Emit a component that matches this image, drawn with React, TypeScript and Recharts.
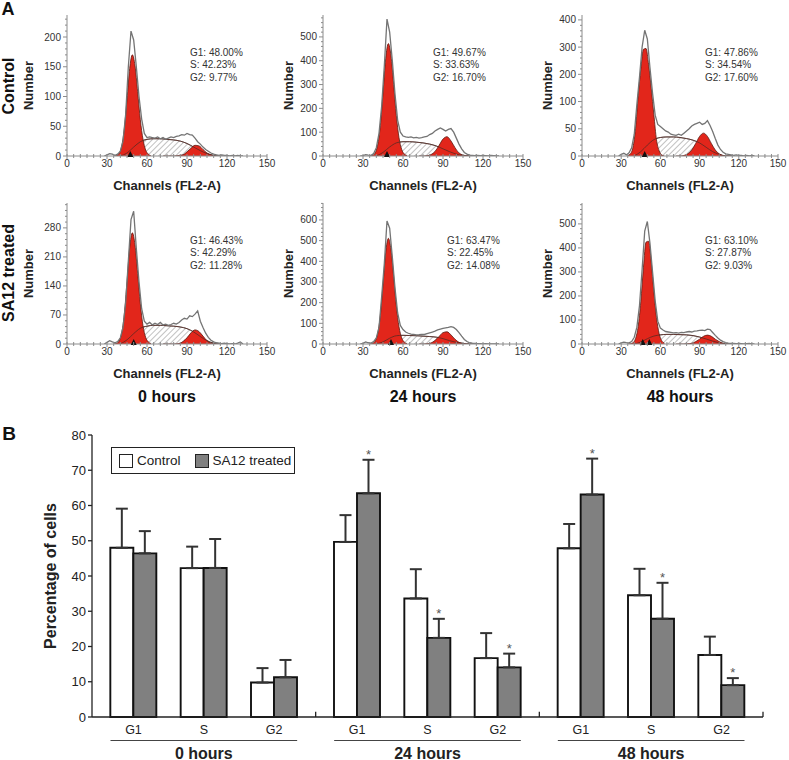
import React from "react";
import {
  ComposedChart,
  BarChart,
  Area,
  Line,
  Bar,
  XAxis,
  YAxis,
  ErrorBar,
  LabelList,
  Legend,
  ReferenceLine,
  ReferenceDot,
} from "recharts";

const FONT = "'Liberation Sans', Arial, Helvetica, sans-serif";
const INK = "#222";
const AXIS_GRAY = "#8c8c8c";
const RED = "#e2261b";
const RED_EDGE = "#5c1a12";
const RAW_GRAY = "#747474";

// ---------- A: DNA content histograms ----------
const RAW_CH = [28, 30, 32, 34, 36, 38, 40, 42, 44, 46, 48, 50, 52, 54, 56, 58, 60, 62, 64, 66, 68, 70, 72, 74, 76, 78, 80, 82, 84, 86, 88, 90, 92, 94, 96, 98, 100, 102, 104, 106, 108, 110, 112, 114, 116, 118, 120, 122, 124, 126, 128, 130, 132];
const G1_CH = [35, 37, 39, 41, 43, 45, 47, 49, 51, 53, 55, 57, 59, 61, 63];
const S_CH = [40, 45, 50, 55, 60, 65, 70, 75, 80, 85, 90, 95, 100, 105, 110, 115];
const G2_CH = [72, 75, 78, 81, 84, 87, 90, 93, 96, 99, 102, 105, 108, 111, 114, 117];

// control, 0 h
const CTRL_0H_RAW = [0, 2, 4, 3, 1, 3, 8, 25, 70, 150, 210, 195, 150, 100, 62, 38, 31, 32, 31, 30, 32, 29, 31, 28, 30, 32, 31, 33, 34, 36, 35, 38, 36, 35, 30, 24, 20, 15, 11, 8, 5, 3, 2, 1, 2, 1, 1, 0, 1, 0, 1, 0, 0];
const CTRL_0H_G1 = [0, 1, 4, 16, 46, 95, 147, 170, 152, 108, 61, 28, 10, 3, 0];
const CTRL_0H_S = [0, 5, 15, 24, 28, 29, 29, 28, 27, 25, 21, 15, 9, 4, 1, 0];
const CTRL_0H_G2 = [0, 0, 0, 0, 1, 2, 7, 13, 18, 17, 11, 5, 2, 0, 0, 0];
const CTRL_0H_GATES = [47.5];

// control, 24 h
const CTRL_24H_RAW = [0, 2, 6, 4, 3, 10, 35, 95, 210, 380, 575, 520, 400, 260, 150, 100, 84, 80, 78, 80, 76, 78, 75, 77, 80, 82, 90, 95, 105, 112, 118, 112, 105, 112, 115, 100, 75, 50, 30, 15, 8, 4, 3, 2, 2, 1, 2, 1, 0, 2, 1, 0, 0];
const CTRL_24H_G1 = [0, 2, 12, 46, 127, 263, 408, 472, 421, 300, 170, 77, 28, 8, 2];
const CTRL_24H_S = [0, 15, 38, 55, 60, 60, 58, 55, 50, 42, 30, 18, 8, 2, 0, 0];
const CTRL_24H_G2 = [0, 0, 1, 6, 19, 44, 71, 81, 63, 35, 13, 4, 1, 0, 0, 0];
const CTRL_24H_GATES = [48];

// control, 48 h
const CTRL_48H_RAW = [0, 3, 5, 2, 6, 15, 40, 95, 190, 300, 362, 330, 225, 130, 75, 58, 54, 50, 46, 44, 40, 39, 38, 40, 38, 42, 46, 50, 55, 58, 60, 62, 58, 60, 65, 56, 45, 32, 20, 12, 7, 4, 3, 2, 1, 2, 1, 1, 0, 1, 0, 1, 0];
const CTRL_48H_G1 = [1, 4, 16, 51, 122, 218, 292, 295, 235, 149, 76, 30, 10, 2, 0];
const CTRL_48H_S = [0, 8, 20, 30, 34, 35, 35, 34, 32, 29, 24, 16, 8, 3, 0, 0];
const CTRL_48H_G2 = [0, 0, 1, 4, 11, 23, 36, 42, 36, 23, 11, 4, 1, 0, 0, 0];
const CTRL_48H_GATES = [48];

// SA12 treated, 0 h
const SA12_0H_RAW = [0, 4, 8, 5, 3, 6, 15, 40, 100, 200, 300, 320, 230, 150, 85, 55, 48, 52, 46, 50, 47, 52, 46, 48, 45, 47, 50, 48, 52, 58, 62, 60, 68, 66, 72, 80, 55, 40, 26, 16, 9, 5, 3, 2, 1, 2, 1, 0, 1, 0, 2, 5, 0];
const SA12_0H_G1 = [0, 1, 7, 26, 72, 150, 232, 268, 239, 170, 97, 44, 16, 5, 1];
const SA12_0H_S = [0, 10, 25, 38, 43, 45, 45, 44, 43, 41, 37, 29, 18, 8, 2, 0];
const SA12_0H_G2 = [0, 0, 0, 0, 1, 6, 15, 27, 34, 30, 19, 8, 2, 1, 0, 0];
const SA12_0H_GATES = [50];

// SA12 treated, 24 h
const SA12_24H_RAW = [0, 3, 10, 6, 4, 12, 30, 80, 230, 390, 595, 560, 420, 270, 150, 90, 70, 58, 52, 48, 46, 44, 45, 47, 46, 50, 54, 58, 62, 68, 72, 76, 78, 80, 84, 80, 70, 55, 38, 22, 12, 6, 4, 3, 2, 2, 1, 2, 0, 1, 0, 1, 0];
const SA12_24H_G1 = [0, 3, 13, 50, 137, 285, 441, 511, 456, 325, 184, 83, 30, 9, 2];
const SA12_24H_S = [0, 10, 28, 40, 42, 41, 40, 38, 36, 33, 26, 16, 8, 3, 0, 0];
const SA12_24H_G2 = [0, 0, 1, 5, 17, 36, 55, 59, 44, 23, 8, 2, 0, 0, 0, 0];
const SA12_24H_GATES = [51];

// SA12 treated, 48 h
const SA12_48H_RAW = [0, 5, 8, 6, 5, 10, 28, 70, 160, 310, 470, 510, 420, 300, 180, 95, 66, 58, 52, 50, 48, 46, 47, 45, 48, 47, 50, 52, 50, 54, 55, 57, 58, 56, 62, 60, 48, 36, 25, 16, 10, 6, 4, 3, 2, 1, 2, 1, 0, 1, 2, 0, 0];
const SA12_48H_G1 = [0, 1, 5, 23, 73, 176, 317, 424, 428, 341, 217, 110, 44, 14, 4];
const SA12_48H_S = [0, 8, 22, 33, 38, 40, 40, 39, 38, 35, 29, 21, 12, 5, 1, 0];
const SA12_48H_G2 = [0, 0, 0, 1, 3, 10, 20, 32, 37, 32, 20, 10, 3, 1, 0, 0];
const SA12_48H_GATES = [46.5, 51.5];

// phase percentages printed in each histogram (G1, S, G2)
const CTRL_PCT = [
  [48.0, 42.23, 9.77],
  [49.67, 33.63, 16.7],
  [47.86, 34.54, 17.6],
];
const SA12_PCT = [
  [46.43, 42.29, 11.28],
  [63.47, 22.45, 14.08],
  [63.1, 27.87, 9.03],
];

const HIST_X_LABELS = [0, 30, 60, 90, 120, 150];
const TIMES = ["0 hours", "24 hours", "48 hours"];
const ROW_NAMES = ["Control", "SA12 treated"];

// ---------- B: bar chart ----------
const PHASES = ["G1", "S", "G2"];
const CONTROL_MEAN = [48.0, 42.23, 9.77, 49.67, 33.63, 16.7, 47.86, 34.54, 17.6];
const CONTROL_ERR = [11.1, 6.1, 4.1, 7.6, 8.3, 7.1, 6.9, 7.5, 5.2];
const SA12_MEAN = [46.43, 42.29, 11.28, 63.47, 22.45, 14.08, 63.1, 27.87, 9.03];
const SA12_ERR = [6.3, 8.2, 4.9, 9.5, 5.4, 3.9, 10.2, 10.2, 2.0];
const SA12_SIG = [false, false, false, true, true, true, true, true, true];
const BAR_Y_TICKS = [0, 10, 20, 30, 40, 50, 60, 70, 80];

// ---------- layout ----------
const COL_AXIS_X = [67, 323, 582];
const COL_PLOT_W = [200, 200, 196];
const ROW_PLOT_TOP = [15, 203];
const HIST_PLOT_H = 141;
const HIST_AXIS_W = 60;
const HIST_RIGHT = 22;
const HIST_XAXIS_H = 45;

const compress = (v: number) => (v <= 100 ? v : 100 + (v - 100) / 2);
const identity = (v: number) => v;

type Panel = {
  raw: number[];
  g1: number[];
  s: number[];
  g2: number[];
  gates: number[];
  pct: number[];
  yMajor: number[];
  yMax: number;
  yStep: number;
  broken?: boolean;
  statDx: number;
  labelDx: number;
};

const PANELS: Panel[][] = [
  [
    { raw: CTRL_0H_RAW, g1: CTRL_0H_G1, s: CTRL_0H_S, g2: CTRL_0H_G2, gates: CTRL_0H_GATES, pct: CTRL_PCT[0], yMajor: [0, 50, 100, 150, 200], yMax: 237, yStep: 10, statDx: 123, labelDx: 39 },
    { raw: CTRL_24H_RAW, g1: CTRL_24H_G1, s: CTRL_24H_S, g2: CTRL_24H_G2, gates: CTRL_24H_GATES, pct: CTRL_PCT[1], yMajor: [0, 100, 200, 300, 400, 500], yMax: 592, yStep: 20, statDx: 110, labelDx: 35 },
    { raw: CTRL_48H_RAW, g1: CTRL_48H_G1, s: CTRL_48H_S, g2: CTRL_48H_G2, gates: CTRL_48H_GATES, pct: CTRL_PCT[2], yMajor: [0, 50, 100, 200, 300, 400], yMax: 418, yStep: 10, broken: true, statDx: 123, labelDx: 35 },
  ],
  [
    { raw: SA12_0H_RAW, g1: SA12_0H_G1, s: SA12_0H_S, g2: SA12_0H_G2, gates: SA12_0H_GATES, pct: SA12_PCT[0], yMajor: [0, 70, 140, 210, 280], yMax: 340, yStep: 14, statDx: 123, labelDx: 39 },
    { raw: SA12_24H_RAW, g1: SA12_24H_G1, s: SA12_24H_S, g2: SA12_24H_G2, gates: SA12_24H_GATES, pct: SA12_PCT[1], yMajor: [0, 100, 200, 300, 400, 500, 600], yMax: 682, yStep: 20, statDx: 124, labelDx: 35 },
    { raw: SA12_48H_RAW, g1: SA12_48H_G1, s: SA12_48H_S, g2: SA12_48H_G2, gates: SA12_48H_GATES, pct: SA12_PCT[2], yMajor: [0, 100, 200, 300, 400, 500], yMax: 587, yStep: 20, statDx: 123, labelDx: 35 },
  ],
];

const HIST_X_TICKS: number[] = [];
for (let c = 0; c <= 150; c += 5) HIST_X_TICKS.push(c);

function HistXTick(props: any) {
  const { x, y, payload } = props;
  const major = HIST_X_LABELS.includes(payload.value);
  return (
    <g>
      <line x1={x} x2={x} y1={y - 2} y2={y + (major ? 3 : 2)} stroke={AXIS_GRAY} strokeWidth={1} />
      {major && (
        <text x={x} y={y + 11} textAnchor="middle" fontSize={10} fill="#333">
          {payload.value}
        </text>
      )}
    </g>
  );
}

function HistYTick(props: any) {
  const { x, y, payload, majorsT, labels } = props;
  const idx = majorsT.findIndex((t: number) => Math.abs(t - payload.value) < 1e-6);
  const major = idx >= 0;
  return (
    <g>
      <line x1={x - (major ? 4 : 2)} x2={x} y1={y} y2={y} stroke={AXIS_GRAY} strokeWidth={1} />
      {major && (
        <text x={x - 6} y={y + 3.5} textAnchor="end" fontSize={10} fill="#333">
          {labels[idx]}
        </text>
      )}
    </g>
  );
}

function GateMark(props: any) {
  const { cx, cy } = props;
  return <polygon points={`${cx - 3},${cy + 1} ${cx + 3},${cy + 1} ${cx},${cy - 5}`} fill="#111" />;
}

function Histogram({ panel, row, col }: { panel: Panel; row: number; col: number }) {
  const axisX = COL_AXIS_X[col];
  const plotW = COL_PLOT_W[col];
  const plotTop = ROW_PLOT_TOP[row];
  const tf = panel.broken ? compress : identity;
  const toRows = (chs: number[], vals: number[]) => chs.map((ch, i) => ({ ch, v: tf(vals[i]) }));
  const yTop = tf(panel.yMax);
  const majorsT = panel.yMajor.map(tf);
  const yTicks: number[] = [];
  for (let t = 0; t <= yTop; t += panel.yStep) yTicks.push(t);
  const hatchId = `hatch-${row}-${col}`;
  const sRows = toRows(S_CH, panel.s);
  const names = ["G1", "S", "G2"];

  return (
    <div style={{ position: "absolute", left: axisX - HIST_AXIS_W, top: plotTop - 8 }}>
      <ComposedChart
        width={HIST_AXIS_W + plotW + HIST_RIGHT}
        height={8 + HIST_PLOT_H + HIST_XAXIS_H}
        margin={{ top: 8, right: HIST_RIGHT, bottom: 0, left: 0 }}
      >
        <defs>
          <pattern id={hatchId} width={4} height={4} patternUnits="userSpaceOnUse" patternTransform="rotate(45)">
            <rect width={4} height={4} fill="#fff" />
            <line x1={0} y1={0} x2={0} y2={4} stroke="#989898" strokeWidth={1.2} />
          </pattern>
        </defs>
        <XAxis
          type="number"
          dataKey="ch"
          domain={[0, 150]}
          ticks={HIST_X_TICKS}
          interval={0}
          allowDataOverflow
          tickLine={false}
          tickSize={0}
          tickMargin={0}
          height={HIST_XAXIS_H}
          axisLine={{ stroke: AXIS_GRAY }}
          tick={(p: any) => <HistXTick {...p} />}
          label={{
            value: "Channels (FL2-A)",
            position: "insideBottom",
            offset: 11.5,
            style: { fontSize: 13, fontWeight: 700, fill: INK },
          }}
        />
        <YAxis
          type="number"
          domain={[0, yTop]}
          ticks={yTicks}
          interval={0}
          allowDataOverflow
          tickLine={false}
          tickSize={0}
          tickMargin={0}
          width={HIST_AXIS_W}
          axisLine={{ stroke: AXIS_GRAY }}
          tick={(p: any) => <HistYTick {...p} majorsT={majorsT} labels={panel.yMajor} />}
          label={{
            value: "Number",
            angle: -90,
            position: "insideLeft",
            offset: HIST_AXIS_W - panel.labelDx,
            style: { textAnchor: "middle", fontSize: 13, fontWeight: 700, fill: INK },
          }}
        />
        <Area
          data={sRows}
          dataKey="v"
          type="monotone"
          fill={`url(#${hatchId})`}
          fillOpacity={1}
          stroke="#4d4d4d"
          strokeWidth={0.8}
          isAnimationActive={false}
        />
        <Area
          data={toRows(G1_CH, panel.g1)}
          dataKey="v"
          type="monotone"
          fill={RED}
          fillOpacity={1}
          stroke={RED_EDGE}
          strokeWidth={0.8}
          isAnimationActive={false}
        />
        <Area
          data={toRows(G2_CH, panel.g2)}
          dataKey="v"
          type="monotone"
          fill={RED}
          fillOpacity={1}
          stroke={RED_EDGE}
          strokeWidth={0.8}
          isAnimationActive={false}
        />
        <Line data={sRows} dataKey="v" type="monotone" stroke="#5a2a22" strokeWidth={0.8} dot={false} isAnimationActive={false} />
        <Line
          data={toRows(RAW_CH, panel.raw)}
          dataKey="v"
          type="linear"
          stroke={RAW_GRAY}
          strokeWidth={1.3}
          dot={false}
          isAnimationActive={false}
        />
        {panel.gates.map((g) => (
          <ReferenceDot key={g} x={g} y={0} r={3} shape={GateMark} ifOverflow="visible" />
        ))}
      </ComposedChart>
      <div
        style={{
          position: "absolute",
          left: HIST_AXIS_W + panel.statDx,
          top: 8 + 38 - 6.5,
          fontSize: 10,
          lineHeight: "12.5px",
          color: "#333",
          whiteSpace: "nowrap",
        }}
      >
        {panel.pct.map((v, i) => (
          <div key={i}>{`${names[i]}: ${v.toFixed(2)}%`}</div>
        ))}
      </div>
    </div>
  );
}

// ---------- bar chart pieces ----------
const GROUP_STEP = 3.18;
const BAR_X_MIN = -0.59;
const BAR_X_MAX = 2 * GROUP_STEP + 2.59;
const BAR_SIZE = 23;
const BAR_MARGIN = { top: 15, right: 26, bottom: 1, left: 30 };
const BAR_W = 789;
const BAR_H = 340;
const BAR_YAXIS_W = 62;
const BAR_XAXIS_H = 42;
const BAR_PLOT_W = BAR_W - BAR_MARGIN.left - BAR_MARGIN.right - BAR_YAXIS_W;
const BAR_PLOT_H = BAR_H - BAR_MARGIN.top - BAR_MARGIN.bottom - BAR_XAXIS_H;
const BAR_PX_PER_UNIT = BAR_PLOT_W / (BAR_X_MAX - BAR_X_MIN);
const PX_PER_PCT = BAR_PLOT_H / 80;

const BAR_ROWS = TIMES.flatMap((_, g) =>
  PHASES.map((phase, p) => {
    const i = g * 3 + p;
    return {
      pos: g * GROUP_STEP + p,
      g,
      p,
      phase,
      control: CONTROL_MEAN[i],
      controlErr: [0, CONTROL_ERR[i]],
      sa12: SA12_MEAN[i],
      sa12Err: [0, SA12_ERR[i]],
      star: SA12_SIG[i] ? SA12_ERR[i] : null,
    };
  })
);

function PhaseTick(props: any) {
  const { x, y, payload } = props;
  const row = BAR_ROWS.find((r) => Math.abs(r.pos - payload.value) < 1e-6);
  if (!row) return null;
  const half = BAR_PX_PER_UNIT + BAR_SIZE;
  return (
    <g>
      <text x={x} y={y + 16.5} textAnchor="middle" fontSize={12.5} fill={INK}>
        {row.phase}
      </text>
      {row.p === 1 && (
        <g>
          <line x1={x - half} x2={x + half} y1={y + 23.5} y2={y + 23.5} stroke="#444" strokeWidth={1} />
          <text x={x} y={y + 41.5} textAnchor="middle" fontSize={16} fontWeight={700} fill={INK}>
            {TIMES[row.g]}
          </text>
        </g>
      )}
    </g>
  );
}

function StarMark(props: any) {
  const vb = props.viewBox && props.viewBox.width != null ? props.viewBox : props;
  const { x, y, width } = vb;
  const err = props.value;
  if (err == null || x == null) return null;
  const capY = y - err * PX_PER_PCT;
  return (
    <text x={x + width / 2} y={capY - 1} textAnchor="middle" fontSize={13} fill="#555">
      *
    </text>
  );
}

function LegendBox() {
  const sw = { width: 14, height: 14, border: "1px solid #222", boxSizing: "border-box" as const, display: "inline-block" };
  return (
    <div
      style={{
        width: 184,
        height: 27,
        boxSizing: "border-box",
        border: "1.2px solid #222",
        display: "flex",
        alignItems: "center",
        fontSize: 13.5,
        color: INK,
        background: "#fff",
        fontFamily: FONT,
      }}
    >
      <span style={{ ...sw, background: "#fff", marginLeft: 7 }} />
      <span style={{ marginLeft: 4 }}>Control</span>
      <span style={{ ...sw, background: "#808080", marginLeft: 14 }} />
      <span style={{ marginLeft: 4 }}>SA12 treated</span>
    </div>
  );
}

function CellCycleBars() {
  return (
    <div style={{ position: "absolute", left: 0, top: 420 }}>
      <BarChart width={BAR_W} height={BAR_H} data={BAR_ROWS} margin={BAR_MARGIN} barGap={0}>
        <XAxis
          type="number"
          dataKey="pos"
          domain={[BAR_X_MIN, BAR_X_MAX]}
          ticks={BAR_ROWS.map((r) => r.pos)}
          interval={0}
          allowDataOverflow
          tickLine={false}
          tickSize={0}
          tickMargin={0}
          height={BAR_XAXIS_H}
          axisLine={{ stroke: INK, strokeWidth: 1.3 }}
          tick={(p: any) => <PhaseTick {...p} />}
        />
        <YAxis
          type="number"
          domain={[0, 80]}
          ticks={BAR_Y_TICKS}
          interval={0}
          width={BAR_YAXIS_W}
          tickSize={4}
          tickMargin={2}
          axisLine={{ stroke: INK, strokeWidth: 1.3 }}
          tickLine={{ stroke: INK, strokeWidth: 1.3 }}
          tick={{ fontSize: 13, fill: INK }}
          label={{
            value: "Percentage of cells",
            angle: -90,
            position: "insideLeft",
            offset: 20,
            style: { textAnchor: "middle", fontSize: 16, fontWeight: 700, fill: INK },
          }}
        />
        <Legend
          layout="vertical"
          align="center"
          verticalAlign="middle"
          wrapperStyle={{ left: 111, top: 27, width: 184 }}
          content={() => <LegendBox />}
        />
        <Bar dataKey="control" barSize={BAR_SIZE} fill="#fff" stroke="#111" strokeWidth={1.9} isAnimationActive={false}>
          <ErrorBar dataKey="controlErr" width={6} stroke="#333" strokeWidth={2} direction="y" />
        </Bar>
        <Bar dataKey="sa12" barSize={BAR_SIZE} fill="#808080" stroke="#111" strokeWidth={1.9} isAnimationActive={false}>
          <ErrorBar dataKey="sa12Err" width={6} stroke="#333" strokeWidth={2} direction="y" />
          <LabelList dataKey="star" content={StarMark} />
        </Bar>
        {TIMES.map((t, g) => (
          <ReferenceLine
            key={t}
            segment={[
              { x: g * GROUP_STEP + 2.59, y: 0 },
              { x: g * GROUP_STEP + 2.59, y: 1.5 },
            ]}
            stroke={INK}
            strokeWidth={1.3}
            ifOverflow="visible"
          />
        ))}
      </BarChart>
    </div>
  );
}

function Label({ x, y, size, rotate, children }: { x: number; y: number; size: number; rotate?: boolean; children: React.ReactNode }) {
  return (
    <div
      style={{
        position: "absolute",
        left: x,
        top: y,
        transform: `translate(-50%, -50%)${rotate ? " rotate(-90deg)" : ""}`,
        fontSize: size,
        fontWeight: 700,
        lineHeight: 1,
        whiteSpace: "nowrap",
        color: "#111",
      }}
    >
      {children}
    </div>
  );
}

export default function App() {
  return (
    <div
      style={{
        position: "absolute",
        left: 0,
        top: 0,
        width: 789,
        height: 760,
        background: "#fff",
        fontFamily: FONT,
        overflow: "hidden",
      }}
    >
      {PANELS.map((rowPanels, row) =>
        rowPanels.map((panel, col) => <Histogram key={`${row}-${col}`} panel={panel} row={row} col={col} />)
      )}
      <Label x={8} y={9} size={18}>A</Label>
      <Label x={9} y={86} size={16} rotate>{ROW_NAMES[0]}</Label>
      <Label x={9} y={273} size={16} rotate>{ROW_NAMES[1]}</Label>
      {TIMES.map((t, c) => (
        <Label key={t} x={COL_AXIS_X[c] + COL_PLOT_W[c] / 2} y={397} size={16}>
          {t}
        </Label>
      ))}
      <CellCycleBars />
      <Label x={9} y={433} size={19}>B</Label>
    </div>
  );
}
